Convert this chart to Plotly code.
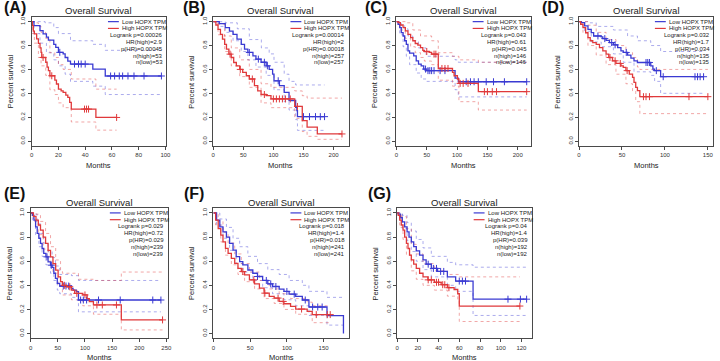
import plotly.graph_objects as go

W, H = 720, 361
FONT = "Liberation Sans, Arial, sans-serif"
BLUE = "#3a3ad2"
RED = "#e0393b"
BLUE_CI = "rgba(70,70,215,0.5)"
RED_CI = "rgba(225,60,60,0.5)"
AXC = "#4a4a4a"

panel_names = ["(A)", "(B)", "(C)", "(D)", "(E)", "(F)", "(G)"]
title_text = "Overall Survival"
xlabel_text = "Months"
ylabel_text = "Percent survival"
legend_low = "Low HOPX TPM"
legend_high = "High HOPX TPM"

# ---------------- statistics text ----------------
A_stats = ["Logrank p=0.00026", "HR(high)=2.9", "p(HR)=0.00045", "n(high)=53", "n(low)=53"]
B_stats = ["Logrank p=0.00014", "HR(high)=2", "p(HR)=0.00018", "n(high)=257", "n(low)=257"]
C_stats = ["Logrank p=0.043", "HR(high)=0.61", "p(HR)=0.045", "n(high)=146", "n(low)=146"]
D_stats = ["Logrank p=0.032", "HR(high)=1.7", "p(HR)=0.034", "n(high)=135", "n(low)=135"]
E_stats = ["Logrank p=0.029", "HR(high)=0.72", "p(HR)=0.029", "n(high)=239", "n(low)=239"]
F_stats = ["Logrank p=0.018", "HR(high)=1.4", "p(HR)=0.018", "n(high)=241", "n(low)=241"]
G_stats = ["Logrank p=0.04", "HR(high)=1.4", "p(HR)=0.039", "n(high)=192", "n(low)=192"]

# ---------------- Panel A ----------------
A_low_t = [0, 1.7, 6.2, 8.5, 11, 12.5, 16.5, 18, 20, 23.5, 25, 27, 29, 45.7, 55, 97]
A_low_s = [1, .966, .925, .897, .87, .846, .81, .785, .743, .73, .70, .67, .645, .603, .545, .545]
A_low_cens = [21, 32, 35, 37, 40, 59, 62, 65.5, 68, 72, 76.5, 84, 97]
A_high_t = [0, 0.5, 1.2, 2, 3.7, 5, 6.2, 7, 7.5, 10.5, 11.5, 12.5, 13.6, 17.3, 18.5, 20, 22, 23.5, 25.5, 27, 28.4, 29.6, 48, 63.5]
A_high_s = [1, .966, .92, .897, .855, .818, .78, .743, .70, .66, .62, .59, .547, .51, .478, .436, .42, .408, .385, .366, .324, .268, .198, .198]
A_high_cens = [8.5, 15, 39.5, 41, 42.5, 63.5]
A_low_up_t = [0, 10, 16.5, 20, 29, 45.7, 55, 97]
A_low_up_s = [1, .99, .95, .90, .84, .81, .76, .76]
A_low_lo_t = [0, 1.7, 6.2, 11, 16.5, 20, 25, 29, 45.7, 55, 97]
A_low_lo_s = [1, .90, .82, .74, .68, .63, .56, .50, .46, .39, .39]
A_high_up_t = [0, 2, 5, 7, 10.5, 13.6, 17.3, 20, 23.5, 29.6, 48, 63.5]
A_high_up_s = [1, .99, .96, .91, .86, .74, .70, .64, .60, .52, .435, .435]
A_high_lo_t = [0, 0.5, 2, 5, 7, 10.5, 13.6, 17.3, 20, 23.5, 29.6, 48, 63.5]
A_high_lo_s = [1, .90, .82, .70, .63, .55, .43, .39, .32, .28, .16, .092, .092]

# ---------------- Panel B ----------------
B_low_t = [0, 10, 20, 27, 33, 39.5, 46.6, 52, 57.5, 66, 71, 79.5, 88, 93, 98.7, 101, 110, 118, 126, 137, 139, 140, 185]
B_low_s = [1, .983, .95, .92, .894, .853, .81, .77, .742, .714, .686, .66, .63, .60, .56, .505, .464, .408, .34, .283, .255, .205, .205]
B_low_cens = [60, 75, 85, 90, 108, 150, 160, 170, 178, 185]
B_high_t = [0, 4.4, 8, 12, 15.4, 19, 22, 26, 30, 34, 38.4, 44, 49, 55, 60, 68.5, 74, 79.5, 88, 96, 135.5, 148, 156, 173, 214]
B_high_s = [1, .972, .936, .894, .853, .81, .77, .728, .70, .658, .63, .60, .575, .547, .52, .464, .42, .39, .38, .353, .29, .172, .117, .06, .06]
B_high_cens = [28, 45, 65, 85, 100, 105, 110, 115, 120, 128, 140, 214]
B_low_up_t = [0, 20, 40, 60, 80, 93, 101, 118, 126, 137, 185]
B_low_up_s = [1, .99, .94, .85, .78, .73, .66, .56, .50, .47, .47]
B_low_lo_t = [0, 10, 20, 33, 46.6, 57.5, 71, 88, 101, 118, 126, 137, 140, 185]
B_low_lo_s = [1, .96, .91, .84, .75, .68, .62, .55, .43, .33, .26, .18, .09, .09]
B_high_up_t = [0, 8, 19, 30, 44, 60, 79.5, 96, 135.5, 148, 156, 214]
B_high_up_s = [1, .98, .88, .78, .68, .60, .48, .45, .42, .38, .36, .36]
B_high_lo_t = [0, 8, 19, 30, 44, 60, 79.5, 96, 135.5, 148, 156, 173, 214]
B_high_lo_s = [1, .89, .75, .63, .54, .45, .32, .28, .19, .08, .04, .015, .015]

# ---------------- Panel C ----------------
C_low_t = [0, 2.7, 5.4, 8, 11, 13.6, 16.3, 19, 21.7, 28.5, 32.6, 36.4, 40.8, 45, 49, 96.7, 102, 214.7]
C_low_s = [1, .978, .95, .908, .88, .84, .81, .756, .736, .714, .672, .644, .63, .603, .59, .528, .497, .497]
C_low_cens = [48, 52, 55, 58, 62, 72, 80, 115, 122, 128, 135, 148, 160, 178, 214.7]
C_high_t = [0, 2.7, 6.5, 11, 14.7, 19, 23.4, 27, 31, 35.3, 39.7, 43.5, 46, 54, 58, 69, 92.4, 95, 100.5, 103, 135, 214.7]
C_high_s = [1, .992, .972, .95, .922, .894, .867, .84, .817, .803, .783, .76, .75, .742, .728, .608, .575, .547, .52, .483, .414, .414]
C_high_cens = [50, 62, 65, 75, 80, 85, 105, 110, 118, 145, 150, 158, 165, 214.7]
C_low_up_t = [0, 8, 13.6, 19, 27, 36.4, 49, 96.7, 102, 214.7]
C_low_up_s = [1, .97, .94, .88, .84, .78, .71, .68, .66, .66]
C_low_lo_t = [0, 5.4, 11, 16.3, 21.7, 32.6, 40.8, 49, 96.7, 102, 214.7]
C_low_lo_s = [1, .89, .79, .71, .64, .57, .52, .50, .43, .37, .37]
C_high_up_t = [0, 14.7, 27, 39.7, 58, 69, 92.4, 103, 135, 214.7]
C_high_up_s = [1, .99, .93, .88, .84, .74, .71, .68, .66, .66]
C_high_lo_t = [0, 6.5, 14.7, 23.4, 31, 39.7, 46, 58, 69, 92.4, 103, 135, 214.7]
C_high_lo_s = [1, .93, .86, .79, .74, .70, .67, .64, .51, .46, .33, .26, .26]

# ---------------- Panel D ----------------
D_low_t = [0, 2.7, 6.5, 10.4, 14.2, 17, 25.8, 27.7, 31.5, 35.4, 40, 45, 48.8, 51.5, 56.5, 60.4, 64, 68, 83.5, 86, 88, 95, 145]
D_low_s = [1, .992, .964, .936, .908, .88, .872, .858, .844, .825, .806, .783, .756, .742, .72, .694, .672, .658, .63, .603, .59, .539, .539]
D_low_cens = [22, 30, 38, 42, 55, 78, 80, 82, 90, 98, 135, 138, 141, 145]
D_high_t = [0, 1.9, 4.6, 7.7, 10.4, 13, 16, 20, 23.8, 27.7, 31.5, 34.6, 39, 43, 48.8, 51.5, 54.6, 58.5, 62.3, 64, 66, 68, 70.8, 150]
D_high_s = [1, .978, .95, .908, .867, .84, .825, .81, .783, .756, .728, .70, .672, .65, .63, .617, .59, .56, .533, .492, .45, .422, .372, .372]
D_high_cens = [36, 42, 48, 56, 75, 78, 82, 128, 150]
D_low_up_t = [0, 10.4, 20, 40, 56.5, 68, 83.5, 95, 145]
D_low_up_s = [1, .99, .96, .93, .88, .84, .80, .75, .75]
D_low_lo_t = [0, 6.5, 14.2, 25.8, 40, 51.5, 64, 83.5, 88, 95, 145]
D_low_lo_s = [1, .92, .83, .79, .73, .66, .58, .55, .50, .40, .40]
D_high_up_t = [0, 10.4, 20, 31.5, 43, 54.6, 62.3, 68, 70.8, 150]
D_high_up_s = [1, .97, .91, .85, .80, .74, .70, .62, .60, .60]
D_high_lo_t = [0, 4.6, 10.4, 20, 31.5, 43, 54.6, 62.3, 66, 70.8, 150]
D_high_lo_s = [1, .90, .80, .72, .64, .56, .48, .42, .33, .23, .23]

# ---------------- Panel E ----------------
E_low_t = [0, 3, 6, 9, 12, 15, 18, 21, 24, 28, 32, 36.5, 39.5, 42.6, 45.6, 49, 53.5, 75, 78, 84, 88, 240]
E_low_s = [1, .98, .94, .884, .83, .79, .747, .705, .664, .636, .595, .567, .548, .50, .457, .416, .394, .375, .36, .347, .278, .278]
E_low_cens = [30, 38, 60, 65, 70, 92, 97, 103, 125, 165, 225, 240]
E_high_t = [0, 5, 9.7, 14, 18, 23, 27.4, 32, 36.5, 41, 46, 50.5, 55, 58.4, 65.7, 75, 81, 96, 104, 108, 115.6, 167, 243]
E_high_s = [1, .972, .94, .90, .857, .80, .747, .69, .636, .58, .526, .47, .43, .40, .388, .36, .333, .32, .29, .264, .237, .113, .113]
E_high_cens = [62, 72, 85, 100, 122, 132, 158, 243]
E_low_up_t = [0, 6, 12, 18, 24, 32, 39.5, 45.6, 53.5, 75, 88, 240]
E_low_up_s = [1, .99, .91, .83, .75, .68, .63, .56, .49, .48, .44, .44]
E_low_lo_t = [0, 3, 9, 15, 21, 28, 36.5, 42.6, 49, 53.5, 75, 88, 240]
E_low_lo_s = [1, .94, .82, .72, .64, .57, .50, .44, .36, .33, .30, .18, .18]
E_high_up_t = [0, 9.7, 18, 27.4, 36.5, 46, 55, 58.4, 88, 115.6, 167, 243]
E_high_up_s = [1, .99, .93, .83, .72, .61, .52, .50, .45, .44, .51, .51]
E_high_lo_t = [0, 5, 14, 23, 32, 41, 50.5, 58.4, 75, 96, 115.6, 167, 243]
E_high_lo_s = [1, .93, .82, .70, .60, .50, .39, .32, .28, .23, .16, .03, .03]

# ---------------- Panel F ----------------
F_low_t = [0, 4.3, 8.7, 13, 17.7, 22, 26.7, 31, 35.7, 40, 46.9, 53.6, 60, 67, 74, 80.5, 89.5, 96, 103, 112, 121, 130, 154.6, 177]
F_low_s = [1, .94, .885, .843, .80, .747, .692, .637, .596, .569, .527, .50, .473, .44, .412, .39, .368, .349, .327, .308, .278, .22, .148, .0]
F_low_cens = [60, 72, 78, 85, 100, 110, 125, 135, 142, 148]
F_high_t = [0, 3, 6.5, 10, 13, 16.4, 20, 24.4, 29, 33.4, 38, 42.4, 49, 56, 62.6, 69, 76, 82.7, 89.5, 96, 105, 112, 127.6, 134.5, 159]
F_high_s = [1, .94, .87, .816, .76, .706, .665, .624, .582, .541, .514, .486, .445, .412, .376, .335, .308, .294, .266, .247, .225, .203, .184, .157, .157]
F_high_cens = [40, 55, 70, 88, 95, 120, 140, 155, 159]
F_low_up_t = [0, 8.7, 17.7, 26.7, 35.7, 46.9, 60, 74, 89.5, 103, 121, 130, 154.6, 177]
F_low_up_s = [1, .95, .88, .79, .72, .64, .58, .53, .49, .44, .40, .35, .30, .30]
F_low_lo_t = [0, 4.3, 13, 22, 31, 40, 53.6, 67, 80.5, 96, 112, 130, 154.6, 177]
F_low_lo_s = [1, .90, .79, .69, .58, .51, .44, .38, .33, .28, .23, .15, .07, .07]
F_high_up_t = [0, 6.5, 13, 20, 29, 38, 49, 62.6, 76, 89.5, 105, 127.6, 134.5, 159]
F_high_up_s = [1, .93, .84, .75, .66, .58, .51, .44, .37, .33, .29, .26, .23, .23]
F_high_lo_t = [0, 3, 10, 16.4, 24.4, 33.4, 42.4, 56, 69, 82.7, 96, 112, 134.5, 159]
F_high_lo_s = [1, .90, .76, .65, .57, .49, .43, .37, .29, .25, .20, .16, .09, .09]

# ---------------- Panel G ----------------
G_low_t = [0, 1, 3.2, 5, 7.3, 9.6, 11.5, 13.7, 16, 18.5, 21.7, 25, 28, 33, 39, 48.5, 56.5, 73.3, 125]
G_low_s = [1, .99, .96, .926, .884, .843, .80, .76, .72, .686, .65, .61, .575, .54, .515, .47, .435, .285, .285]
G_low_cens = [30, 35, 38, 42, 45, 60, 63, 66, 107, 119, 125]
G_high_t = [0, 1, 2.5, 4, 5.7, 7.3, 9, 10.5, 12, 13.7, 16, 18.5, 21.7, 25, 29.7, 36, 42.5, 48.5, 55, 58.5, 60, 118.5]
G_high_s = [1, .98, .94, .90, .857, .80, .747, .705, .65, .61, .575, .54, .50, .47, .445, .425, .405, .38, .365, .33, .228, .228]
G_high_cens = [30, 33, 38, 40, 44, 46, 50, 118.5]
G_low_up_t = [0, 5, 9.6, 13.7, 18.5, 25, 33, 48.5, 56.5, 73.3, 125]
G_low_up_s = [1, .98, .92, .85, .78, .71, .64, .59, .57, .55, .55]
G_low_lo_t = [0, 5, 9.6, 13.7, 18.5, 25, 33, 48.5, 56.5, 73.3, 125]
G_low_lo_s = [1, .87, .77, .68, .60, .53, .47, .40, .35, .15, .15]
G_high_up_t = [0, 4, 9, 13.7, 18.5, 25, 36, 48.5, 60, 118.5]
G_high_up_s = [1, .97, .87, .74, .66, .58, .52, .49, .47, .47]
G_high_lo_t = [0, 2.5, 5.7, 9, 13.7, 18.5, 25, 36, 48.5, 58.5, 60, 118.5]
G_high_lo_s = [1, .88, .78, .65, .52, .45, .40, .36, .31, .27, .10, .10]

y_ticks = [0, 0.2, 0.4, 0.6, 0.8, 1.0]

# panel layout in pixels: box left, right, top, bottom; x-range max; x tick step; label pos
ROW1 = (15.9, 145.3)
ROW2 = (207.7, 338.3)
panels = [
    dict(n="A", box=(30, 165.7) + ROW1, xmax=100.5, dtick=20, lab=(0, 7),
         low=(A_low_t, A_low_s, A_low_cens, A_low_up_t, A_low_up_s, A_low_lo_t, A_low_lo_s),
         high=(A_high_t, A_high_s, A_high_cens, A_high_up_t, A_high_up_s, A_high_lo_t, A_high_lo_s),
         stats=A_stats),
    dict(n="B", box=(213.3, 350) + ROW1, xmax=225, dtick=50, lab=(181, 7),
         low=(B_low_t, B_low_s, B_low_cens, B_low_up_t, B_low_up_s, B_low_lo_t, B_low_lo_s),
         high=(B_high_t, B_high_s, B_high_cens, B_high_up_t, B_high_up_s, B_high_lo_t, B_high_lo_s),
         stats=B_stats),
    dict(n="C", box=(398.3, 534) + ROW1, xmax=221.5, dtick=50, lab=(365, 7),
         low=(C_low_t, C_low_s, C_low_cens, C_low_up_t, C_low_up_s, C_low_lo_t, C_low_lo_s),
         high=(C_high_t, C_high_s, C_high_cens, C_high_up_t, C_high_up_s, C_high_lo_t, C_high_lo_s),
         stats=C_stats),
    dict(n="D", box=(582.7, 718) + ROW1, xmax=156, dtick=50, lab=(543, 7),
         low=(D_low_t, D_low_s, D_low_cens, D_low_up_t, D_low_up_s, D_low_lo_t, D_low_lo_s),
         high=(D_high_t, D_high_s, D_high_cens, D_high_up_t, D_high_up_s, D_high_lo_t, D_high_lo_s),
         stats=D_stats),
    dict(n="E", box=(29, 167.6) + ROW2, xmax=253, dtick=50, lab=(0, 193),
         low=(E_low_t, E_low_s, E_low_cens, E_low_up_t, E_low_up_s, E_low_lo_t, E_low_lo_s),
         high=(E_high_t, E_high_s, E_high_cens, E_high_up_t, E_high_up_s, E_high_lo_t, E_high_lo_s),
         stats=E_stats),
    dict(n="F", box=(213.5, 350) + ROW2, xmax=184, dtick=50, lab=(182, 193),
         low=(F_low_t, F_low_s, F_low_cens, F_low_up_t, F_low_up_s, F_low_lo_t, F_low_lo_s),
         high=(F_high_t, F_high_s, F_high_cens, F_high_up_t, F_high_up_s, F_high_lo_t, F_high_lo_s),
         stats=F_stats),
    dict(n="G", box=(399, 535) + ROW2, xmax=130, dtick=20, lab=(368, 193),
         low=(G_low_t, G_low_s, G_low_cens, G_low_up_t, G_low_up_s, G_low_lo_t, G_low_lo_s),
         high=(G_high_t, G_high_s, G_high_cens, G_high_up_t, G_high_up_s, G_high_lo_t, G_high_lo_s),
         stats=G_stats),
]


def px(x):
    return x / W


def py(y):
    return 1 - y / H


def step_at(ts, ss, t):
    v = ss[0]
    for ti, si in zip(ts, ss):
        if ti <= t:
            v = si
    return v


def note(x, y, text, size, anchor="center", angle=0, color="#222"):
    return dict(x=px(x), y=py(y), xref="paper", yref="paper", text=text, showarrow=False,
                xanchor=anchor, yanchor="middle", textangle=angle,
                font=dict(family=FONT, size=size, color=color))


fig = go.Figure()
annotations = []
shapes = []
layout_axes = {}

for i, p in enumerate(panels):
    k = "" if i == 0 else str(i + 1)
    xa, ya = "x" + k, "y" + k
    bx0, bx1, by0, by1 = p["box"]

    for grp, cicol in ((p["low"], BLUE_CI), (p["high"], RED_CI)):
        t, s, cens, ut, us, lt, ls = grp
        for ct, cs in ((ut, us), (lt, ls)):
            fig.add_trace(go.Scatter(x=ct, y=cs, xaxis=xa, yaxis=ya, mode="lines",
                                     line=dict(color=cicol, width=0.9, dash="dot", shape="hv"),
                                     hoverinfo="skip", showlegend=False))
    for grp, col in ((p["low"], BLUE), (p["high"], RED)):
        t, s, cens, ut, us, lt, ls = grp
        fig.add_trace(go.Scatter(x=t, y=s, xaxis=xa, yaxis=ya, mode="lines",
                                 line=dict(color=col, width=1.3, shape="hv"),
                                 showlegend=False))
        fig.add_trace(go.Scatter(x=cens, y=[step_at(t, s, c) for c in cens], xaxis=xa, yaxis=ya,
                                 mode="markers",
                                 marker=dict(symbol="cross-thin", size=5, color=col,
                                             line=dict(color=col, width=1)),
                                 showlegend=False))

    axis_common = dict(showline=True, mirror=True, linecolor=AXC, linewidth=1,
                       ticks="outside", ticklen=3, tickcolor=AXC, tickwidth=1,
                       showgrid=False, zeroline=False,
                       tickfont=dict(family=FONT, size=6, color="#333"))
    layout_axes["xaxis" + k] = dict(axis_common, domain=[px(bx0), px(bx1)], anchor=ya,
                                    range=[0, p["xmax"]], tick0=0, dtick=p["dtick"])
    layout_axes["yaxis" + k] = dict(axis_common, domain=[py(by1), py(by0)], anchor=xa,
                                    range=[-0.04, 1.04], tickvals=y_ticks,
                                    ticktext=["%.1f" % v for v in y_ticks], tickangle=-90)

    cx = (bx0 + bx1) / 2
    cy = (by0 + by1) / 2
    annotations.append(note(cx, by0 - 6, title_text, 9.5))
    annotations.append(note(cx, by1 + 19.5, xlabel_text, 7.5))
    annotations.append(note(bx0 - 22, cy, ylabel_text, 7.5, angle=-90))
    lx, ly = p["lab"]
    annotations.append(note(lx, ly, "<b>" + panel_names[i] + "</b>", 16, anchor="left", color="#111"))

    # legend
    step = 6.8
    y0 = by0 + 4.8
    for j, (lab, col) in enumerate(((legend_low, BLUE), (legend_high, RED))):
        yy = y0 + j * step
        shapes.append(dict(type="line", xref="paper", yref="paper",
                           x0=px(bx1 - 58.7), x1=px(bx1 - 47.7), y0=py(yy), y1=py(yy),
                           line=dict(color=col, width=1.2)))
        annotations.append(note(bx1 - 46.7, yy, lab, 6, anchor="left"))
    for j, st in enumerate(p["stats"]):
        yy = y0 + (j + 2) * step
        annotations.append(note(bx1 - 1.5, yy, st, 6, anchor="right"))

fig.update_layout(
    width=W, height=H,
    margin=dict(l=0, r=0, t=0, b=0),
    paper_bgcolor="white", plot_bgcolor="white",
    showlegend=False,
    annotations=annotations, shapes=shapes,
    font=dict(family=FONT),
    **layout_axes,
)

fig.write_html("out.html", config={"displayModeBar": False, "staticPlot": True},
               post_script="document.body.style.margin='0';document.body.style.overflow='hidden';")
